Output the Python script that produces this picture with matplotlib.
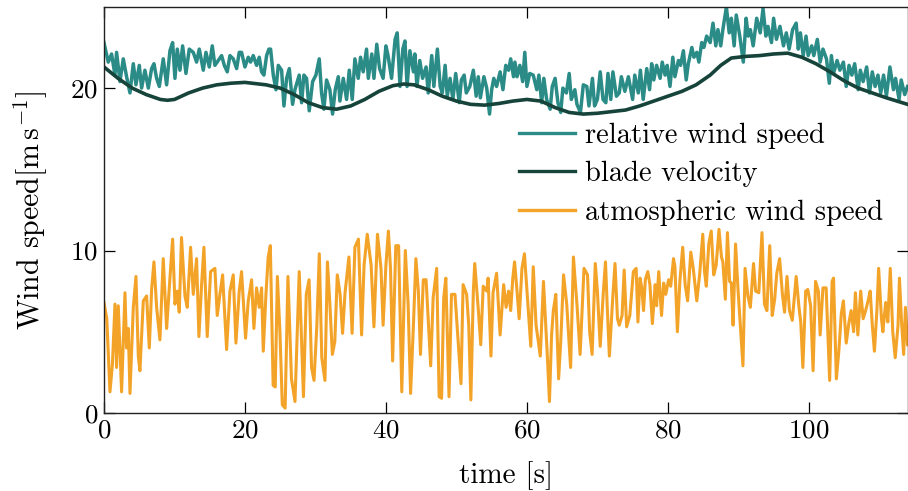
import matplotlib
matplotlib.use("Agg")
import matplotlib.pyplot as plt

plt.rcParams["font.family"] = "serif"
plt.rcParams["font.serif"] = ["cmr10", "DejaVu Serif"]
plt.rcParams["mathtext.fontset"] = "cm"
plt.rcParams["axes.formatter.use_mathtext"] = True
plt.rcParams["axes.unicode_minus"] = False

# atmospheric wind speed
t_atm = [0.0, 0.4, 0.85, 1.2, 1.56, 1.79, 2.03, 2.5, 2.98, 3.21, 3.45, 3.69, 4.16, 4.54, 4.87, 5.1,
         5.58, 6.05, 6.43, 6.76, 7.09, 7.47, 7.94, 8.41, 8.89, 9.36, 9.74, 10.07, 10.4, 10.68, 11.0,
         11.49, 11.82, 12.29, 12.67, 13.14, 13.47, 13.85, 14.18, 14.65, 15.13, 15.74, 16.07, 16.45,
         16.83, 17.4, 17.87, 18.34, 18.72, 19.19, 19.52, 20.09, 20.47, 20.94, 21.27, 21.65, 22.03,
         22.36, 22.6, 22.98, 23.3, 23.6, 24.0, 24.3, 24.6, 24.96, 25.3, 25.7, 26.1, 26.6, 27.1, 27.7,
         28.3, 28.7, 29.1, 29.45, 29.8, 30.2, 30.55, 30.9, 31.35, 31.7, 32.05, 32.4, 32.75, 33.1,
         33.5, 33.85, 34.2, 34.75, 35.2, 35.6, 36.1, 36.55, 36.9, 37.35, 37.9, 38.3, 38.8, 39.3,
         39.6, 40.0, 40.35, 40.65, 40.95, 41.4, 41.8, 42.25, 42.75, 43.15, 43.5, 43.9, 44.25, 44.6,
         44.9, 45.3, 45.7, 46.0, 46.35, 46.7, 47.2, 47.55, 47.9, 48.2, 48.5, 48.95, 49.3, 49.8,
         50.25, 50.65, 50.95, 51.45, 51.75, 52.05, 52.4, 52.6, 53.1, 53.45, 53.8, 54.3, 54.5, 54.9,
         55.2, 55.7, 56.2, 56.7, 57.05, 57.4, 57.7, 58.0, 58.25, 58.6, 58.9, 59.3, 59.65, 60.1,
         60.55, 60.9, 61.3, 61.55, 61.9, 62.35, 62.75, 62.9, 63.2, 63.5, 63.75, 64.1, 64.5, 64.8,
         65.2, 65.65, 66.2, 66.6, 67.1, 67.55, 68.1, 68.6, 68.9, 69.25, 69.7, 70.0, 70.4, 70.85,
         71.15, 71.4, 71.7, 72.15, 72.5, 72.85, 73.1, 73.5, 73.8, 74.15, 74.6, 75.1, 75.5, 75.75,
         76.05, 76.3, 76.55, 76.8, 77.15, 77.45, 77.8, 78.2, 78.4, 78.7, 79.1, 79.4, 79.7, 80.1,
         80.4, 80.8, 81.0, 81.35, 81.7, 82.1, 82.45, 82.8, 83.25, 83.6, 84.1, 84.5, 84.95, 85.2,
         85.45, 85.8, 86.15, 86.5, 86.85, 87.25, 87.6, 87.8, 88.15, 88.45, 88.75, 89.0, 89.25, 89.6,
         89.95, 90.25, 90.65, 90.95, 91.35, 91.7, 92.15, 92.45, 92.9, 93.35, 93.7, 94.05, 94.45,
         94.8, 95.15, 95.45, 95.85, 96.25, 96.55, 96.9, 97.25, 97.65, 98.2, 98.6, 98.85, 99.15,
         99.55, 99.85, 100.25, 100.6, 100.95, 101.35, 101.6, 102.0, 102.45, 102.95, 103.3, 103.5,
         103.9, 104.25, 104.6, 104.9, 105.3, 105.7, 106.0, 106.35, 106.6, 106.95, 107.35, 107.7,
         108.05, 108.4, 108.7, 109.0, 109.3, 109.65, 109.9, 110.3, 110.5, 110.9, 111.2, 111.55,
         111.9, 112.25, 112.65, 112.85, 113.15, 113.45, 113.7, 114.0]
atm = [6.8, 5.8, 1.3, 3.0, 6.7, 2.8, 6.6, 1.3, 7.4, 4.0, 5.2, 1.2, 6.5, 8.4, 3.5, 2.6,
       6.9, 7.2, 4.0, 7.6, 9.3, 6.5, 4.5, 9.5, 5.2, 8.3, 10.7, 6.7, 7.5, 6.2, 10.8,
       7.2, 6.5, 10.2, 7.3, 9.5, 4.7, 7.9, 10.2, 4.7, 8.7, 8.9, 6.0, 7.3,
       8.5, 3.9, 7.5, 8.5, 4.3, 7.5, 8.7, 4.6, 6.9, 8.2, 5.2, 7.7, 6.5,
       7.7, 3.8, 7.3, 9.6, 10.3, 1.7, 1.6, 8.4, 5.0, 0.5, 0.3, 8.4, 2.1, 0.7, 8.7,
       1.0, 7.3, 8.2, 2.8, 2.0, 5.4, 9.8, 3.4, 2.0, 9.3, 6.7, 3.6, 4.4, 8.5,
       7.3, 4.9, 7.4, 9.6, 4.9, 10.2, 10.7, 4.8, 9.1, 11.0, 9.1, 5.3, 11.0, 8.9,
       5.4, 9.1, 11.2, 8.9, 3.2, 10.3, 10.3, 1.3, 10.0, 6.7, 1.2, 5.4, 9.5, 7.5,
       3.6, 8.2, 8.2, 5.8, 2.9, 7.1, 8.9, 1.0, 0.9, 7.1, 8.3, 1.0, 7.3, 7.3,
       4.4, 1.8, 7.9, 7.3, 5.4, 0.8, 7.5, 9.2, 6.4, 4.2, 7.8, 7.5, 8.3, 3.5,
       7.4, 8.6, 4.8, 7.9, 6.5, 7.5, 6.3, 8.3, 9.3, 7.5, 5.8, 8.9, 9.8, 6.9,
       4.1, 9.0, 5.4, 4.6, 3.5, 8.1, 4.8, 3.5, 0.7, 4.8, 6.3, 7.3, 2.1, 4.4,
       8.5, 6.7, 2.8, 9.6, 6.7, 3.6, 8.9, 8.5, 5.0, 3.6, 9.2, 7.5, 4.1, 7.5,
       9.3, 6.5, 3.5, 6.9, 9.2, 5.8, 5.4, 6.0, 8.8, 5.3, 6.0, 8.7, 8.9, 5.6,
       8.3, 7.7, 6.3, 8.2, 8.7, 7.9, 5.5, 7.9, 6.6, 8.7, 6.0, 8.0, 7.3, 8.2,
       7.8, 9.5, 9.0, 5.0, 8.1, 10.2, 7.9, 6.9, 9.9, 8.9, 6.9, 8.5, 11.0, 8.7,
       7.8, 10.4, 11.2, 8.5, 9.1, 11.3, 9.6, 9.3, 7.0, 11.1, 8.1, 8.0, 5.4, 10.4,
       7.6, 5.6, 2.9, 8.9, 7.2, 6.5, 9.2, 7.5, 7.4, 11.1, 6.7, 6.3, 10.3,
       6.0, 7.0, 8.6, 9.5, 7.3, 6.2, 8.4, 6.3, 5.7, 8.4, 6.5, 5.6, 2.8,
       7.5, 7.6, 6.6, 2.6, 8.1, 7.5, 4.8, 7.7, 7.7, 2.0, 8.1, 8.3,
       2.1, 3.8, 6.1, 6.9, 4.3, 5.6, 6.3, 5.0, 7.4, 4.8, 7.5, 5.8,
       6.3, 6.9, 7.5, 5.4, 3.8, 6.3, 8.9, 5.8, 5.0, 6.8, 5.6, 8.9,
       5.0, 3.4, 5.4, 8.3, 5.6, 3.6, 6.5, 4.2]

# blade velocity
t_blade = [0, 2, 4, 6, 8, 9, 10, 12, 14, 16, 18, 20, 23, 25, 27, 29, 31, 33, 35, 37, 39, 41,
           42.5, 44, 46, 48, 50, 52, 54, 56, 58, 60, 62, 64, 66, 68, 70, 72, 74, 76, 78, 80,
           82, 84, 86, 87.5, 89, 91, 93, 95, 97, 99, 101, 103, 105, 107, 109, 111, 114]
blade = [21.3, 20.6, 20.0, 19.6, 19.3, 19.25, 19.3, 19.7, 20.0, 20.2, 20.3, 20.35, 20.2, 20.0,
         19.6, 19.1, 18.8, 18.7, 18.9, 19.3, 19.8, 20.15, 20.25, 20.2, 19.9, 19.5, 19.2, 19.0,
         18.95, 19.05, 19.2, 19.3, 19.2, 18.8, 18.5, 18.4, 18.45, 18.55, 18.65, 18.9, 19.2, 19.5,
         19.8, 20.2, 20.8, 21.4, 21.85, 21.95, 22.0, 22.1, 22.15, 21.9, 21.5, 21.0, 20.45, 20.0,
         19.7, 19.4, 19.0]

# relative wind speed
t_rel = [0.0, 0.61, 1.08, 1.56, 1.79, 2.27, 2.74, 3.21, 3.69, 4.16, 4.54, 5.01, 5.34, 5.81, 6.29,
         6.76, 7.09, 7.47, 7.85, 8.41, 8.89, 9.36, 9.74, 10.07, 10.4, 10.78, 11.16, 11.63, 12.1,
         12.67, 13.14, 13.52, 14.09, 14.47, 14.94, 15.36, 15.74, 16.22, 16.69, 17.07, 17.49,
         17.87, 18.34, 18.82, 19.19, 19.52, 20.0, 20.47, 20.8, 21.18, 21.65, 22.03, 22.36,
         22.69, 23.07, 23.4, 23.64, 24.02, 24.4, 24.73, 25.2, 25.53, 25.91, 26.29, 26.76, 27.09,
         27.7, 28.04, 28.37, 28.74, 29.12, 29.6, 30.07, 30.54, 30.87, 31.2, 31.58, 32.05, 32.43,
         32.81, 33.24, 33.47, 33.95, 34.42, 34.8, 35.22, 35.6, 36.07, 36.4, 36.78, 37.25,
         37.5, 38.0, 38.3, 38.7, 39.1, 39.6, 40.0, 40.3, 40.8, 41.3, 41.6, 42.0, 42.4, 42.7,
         43.0, 43.4, 43.9, 44.1, 44.4, 44.8, 45.2, 45.7, 46.0, 46.5, 46.8, 47.3, 47.7, 48.0,
         48.4, 48.7, 49.1, 49.5, 49.9, 50.4, 50.7, 51.1, 51.4, 51.9, 52.4, 52.8, 53.1, 53.4,
         53.9, 54.3, 54.7, 55.0, 55.3, 55.7, 56.2, 56.6, 57.0, 57.4, 57.7, 58.1, 58.3, 58.6,
         59.0, 59.4, 59.7, 60.0, 60.4, 60.9, 61.4, 61.7, 62.1, 62.4, 62.8, 63.3, 63.6, 64.0,
         64.4, 64.8, 65.1, 65.6, 66.0, 66.3, 66.8, 67.1, 67.6, 68.0, 68.5, 68.8, 69.3, 69.6,
         70.0, 70.4, 70.8, 71.2, 71.5, 71.9, 72.2, 72.7, 73.1, 73.4, 73.9, 74.4,
         75.0, 75.3, 75.8, 76.1, 76.5, 77.0, 77.4, 77.7, 78.0, 78.4, 78.9, 79.2, 79.6, 79.9,
         80.3, 80.7, 81.0, 81.5, 81.8, 82.2, 82.6, 82.9, 83.4, 83.7, 84.1, 84.4, 84.8, 85.1,
         85.5, 86.0, 86.4, 86.8, 87.1, 87.5, 87.8, 88.3, 88.7, 89.0, 89.4, 89.7, 90.2, 90.7,
         91.1, 91.4, 91.7, 92.1, 92.6, 93.1, 93.5, 93.9, 94.2, 94.7, 95.0, 95.4, 95.9, 96.4,
         96.8, 97.2, 97.7, 98.2, 98.5, 98.8, 99.2, 99.6, 99.9, 100.4, 100.7, 101.2, 101.6,
         102.0, 102.5, 102.9, 103.2, 103.5, 104.0, 104.4, 104.9, 105.3, 105.7, 106.1, 106.5,
         107.0, 107.3, 107.7, 108.2, 108.6, 109.0, 109.4, 109.8, 110.2, 110.6, 111.0, 111.5,
         112.0, 112.3, 112.8, 113.1, 113.6, 114.0]
rel = [22.8, 21.6, 22.1, 20.8, 22.2, 20.4, 21.8, 20.7, 19.7, 21.5, 20.2, 21.4, 20.0, 21.1, 20.0,
       21.2, 21.5, 20.6, 20.1, 21.8, 20.2, 22.3, 22.8, 20.6, 22.4, 21.1, 22.6, 20.9, 22.4,
       22.2, 21.6, 22.4, 21.1, 22.2, 21.3, 22.6, 21.4, 21.7, 22.0, 21.4, 21.0,
       22.0, 21.8, 21.2, 22.2, 22.2, 21.3, 21.9, 21.6, 22.0, 21.4, 21.9, 21.0,
       20.8, 22.0, 22.4, 22.4, 20.8, 19.9, 21.4, 21.1, 18.9, 20.6, 21.2, 19.0, 19.9,
       20.8, 19.1, 20.8, 20.6, 18.6, 20.4, 20.8, 21.8, 19.7, 18.7, 20.5, 19.9, 18.4,
       19.9, 20.7, 19.2, 20.6, 19.3, 21.1, 19.3, 21.8, 20.6, 21.9, 21.0, 22.4,
       20.6, 22.1, 20.6, 22.7, 21.2, 20.6, 22.6, 22.0, 20.6, 23.0, 23.4, 20.1, 22.4, 22.9,
       20.1, 22.3, 21.0, 22.1, 20.1, 21.7, 20.6, 21.3, 19.7, 22.0, 20.1, 22.4, 20.1, 19.7,
       21.4, 19.5, 20.6, 19.3, 20.9, 19.1, 20.5, 20.8, 19.7, 20.1, 21.1, 19.5, 20.7, 19.4,
       20.7, 20.0, 18.4, 19.9, 20.6, 20.1, 21.0, 19.9, 21.4, 21.1, 21.8, 20.7, 21.6, 20.7,
       21.4, 20.4, 22.2, 20.1, 20.9, 20.8, 19.9, 20.8, 19.1, 20.6, 19.3, 18.7, 20.1, 20.6,
       19.1, 18.5, 20.0, 19.7, 20.9, 19.3, 19.9, 19.0, 18.5, 20.2, 20.1, 18.9, 20.6, 18.9,
       19.3, 21.0, 19.3, 19.1, 20.9, 19.3, 21.0, 19.5, 19.7, 20.7, 19.8, 20.7,
       19.3, 20.8, 19.7, 21.1, 19.3, 21.2, 19.9, 21.5, 20.5, 21.4, 20.6, 21.6, 20.8, 21.4,
       20.1, 21.9, 20.7, 21.7, 21.4, 22.3, 20.5, 21.5, 22.5, 21.9, 22.2, 21.6, 22.8, 22.5,
       23.2, 22.8, 24.0, 22.6, 23.6, 22.6, 23.6, 25.0, 23.4, 24.3, 22.6, 24.5, 23.2, 21.6,
       24.3, 23.2, 23.6, 22.6, 24.3, 23.4, 24.9, 23.2, 23.8, 22.8, 24.3, 23.0, 23.8, 22.6,
       23.4, 22.4, 23.6, 24.0, 22.4, 23.4, 22.0, 23.2, 22.0, 22.6, 22.0, 23.0, 21.6,
       22.4, 21.8, 20.3, 22.0, 20.9, 21.7, 21.1, 21.6, 20.1, 21.4, 20.8, 21.5,
       19.9, 21.1, 20.4, 21.3, 19.7, 21.0, 20.1, 20.8, 19.7, 20.8, 19.5, 21.3,
       19.9, 20.6, 19.3, 20.5, 19.6, 20.1]

fig = plt.figure(figsize=(9.08, 4.91), dpi=100)
ax = fig.add_axes([0.1145, 0.159, 0.885, 0.827])

ax.plot(t_rel, rel, color="#2b8c87", lw=2.5, label="relative wind speed")
ax.plot(t_blade, blade, color="#16433a", lw=2.6, label="blade velocity")
ax.plot(t_atm, atm, color="#f3a328", lw=2.2, label="atmospheric wind speed")

ax.set_xlim(0, 114)
ax.set_ylim(0, 25)
ax.set_xticks([0, 20, 40, 60, 80, 100])
ax.set_yticks([0, 10, 20])
ax.tick_params(direction="in", top=True, right=True, length=8, width=0.9,
               labelsize=19.5, pad=4)
for s in ax.spines.values():
    s.set_linewidth(1.0)
    s.set_color("#222222")

ax.set_xlabel("time [s]", fontsize=21, labelpad=14)
ax.set_ylabel(r"Wind speed$[\mathrm{m\,s}^{-1}]$", fontsize=21.5, labelpad=15)

leg = ax.legend(loc="upper left", bbox_to_anchor=(0.517, 0.715), frameon=False,
                fontsize=20.5, handlelength=1.95, handletextpad=0.35, labelspacing=0.42,
                borderaxespad=0, borderpad=0)
for ln in leg.get_lines():
    ln.set_linewidth(2.4)

fig.savefig("out.png", dpi=100)
